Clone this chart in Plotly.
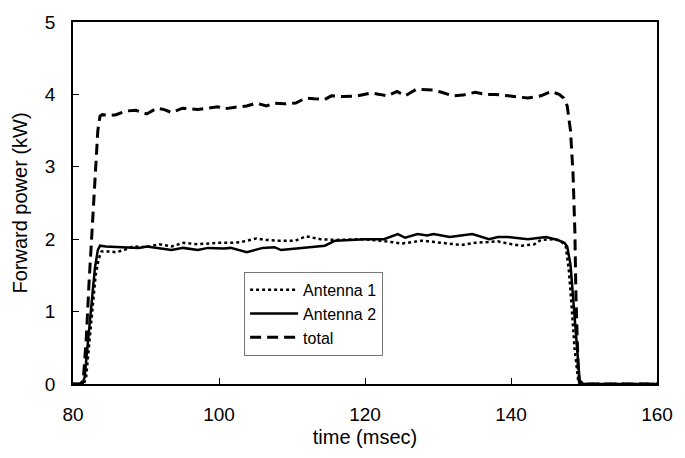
import plotly.graph_objects as go

total_t = [80.0, 81.0, 81.4, 81.8, 82.2, 82.6, 83.0, 83.4, 83.7, 84.0, 85.0, 85.9, 87.2, 88.6, 90.1, 91.5, 92.5, 93.5, 95.0, 97.1, 99.8, 100.7, 102.0, 103.8, 105.1, 106.5, 107.6, 109.0, 110.5, 111.9, 113.0, 114.5, 115.4, 117.0, 119.0, 120.8, 122.0, 123.0, 124.4, 125.5, 127.0, 129.3, 130.5, 132.0, 133.4, 135.1, 136.5, 137.8, 139.6, 141.0, 142.3, 144.1, 145.5, 146.6, 147.2, 147.7, 148.15, 148.5, 148.75, 148.9, 149.05, 149.2, 149.4, 150.0, 160.0]
total_v = [0, 0, 0.05, 0.6, 1.4, 2.15, 2.9, 3.5, 3.7, 3.72, 3.71, 3.72, 3.77, 3.78, 3.73, 3.81, 3.79, 3.75, 3.81, 3.79, 3.83, 3.80, 3.82, 3.84, 3.88, 3.84, 3.88, 3.87, 3.88, 3.95, 3.94, 3.93, 3.98, 3.97, 3.98, 4.02, 4.0, 3.98, 4.04, 3.98, 4.07, 4.06, 4.03, 3.98, 3.99, 4.03, 4.0, 4.0, 3.98, 3.96, 3.95, 3.98, 4.04, 4.0, 3.95, 3.84, 3.5, 2.9, 2.1, 1.2, 0.7, 0.2, 0, 0, 0]

ant2_t = [80.0, 81.3, 81.6, 82.0, 82.5, 83.0, 83.4, 83.7, 84.5, 86.0, 87.2, 89.0, 90.1, 91.5, 93.5, 95.1, 97.1, 98.5, 100.7, 101.6, 103.8, 106.0, 107.6, 108.5, 110.5, 113.2, 114.5, 115.9, 118.0, 120.0, 122.6, 124.5, 125.5, 127.2, 128.5, 129.4, 131.6, 134.7, 137.0, 138.2, 139.6, 142.3, 144.8, 146.4, 147.3, 147.7, 148.15, 148.5, 148.95, 149.4, 149.9, 160.0]
ant2_v = [0, 0, 0.1, 0.5, 1.1, 1.6, 1.85, 1.91, 1.90, 1.89, 1.89, 1.88, 1.90, 1.88, 1.85, 1.88, 1.85, 1.88, 1.87, 1.88, 1.82, 1.88, 1.89, 1.85, 1.87, 1.90, 1.91, 1.98, 1.99, 2.0, 2.0, 2.07, 2.02, 2.07, 2.05, 2.07, 2.03, 2.07, 2.0, 2.03, 2.03, 2.0, 2.03, 1.99, 1.95, 1.9, 1.65, 1.19, 0.51, 0.05, 0, 0]

ant1_t = [80.0, 81.5, 81.8, 82.2, 82.7, 83.1, 83.5, 83.9, 85.0, 85.9, 87.0, 88.2, 90.0, 91.8, 93.5, 95.1, 97.1, 99.8, 101.6, 103.0, 105.1, 106.5, 108.0, 110.5, 111.9, 113.9, 115.9, 119.8, 122.9, 125.1, 127.8, 130.5, 133.2, 135.1, 138.2, 139.6, 141.4, 143.2, 144.1, 145.9, 146.8, 147.5, 147.9, 148.25, 148.7, 149.2, 149.6, 160.0]
ant1_v = [0, 0, 0.1, 0.5, 1.1, 1.5, 1.72, 1.83, 1.83, 1.82, 1.85, 1.9, 1.89, 1.93, 1.9, 1.95, 1.93, 1.95, 1.95, 1.96, 2.01, 1.99, 1.98, 1.98, 2.04, 2.0, 1.99, 2.0, 1.97, 1.94, 1.98, 1.95, 1.92, 1.95, 1.97, 1.94, 1.91, 1.93, 1.99, 2.0, 1.98, 1.9, 1.6, 1.15, 0.5, 0.05, 0, 0]

x_ticks = [80, 100, 120, 140, 160]
y_ticks = [0, 1, 2, 3, 4, 5]

FONT = "Liberation Sans, Arial, sans-serif"

fig = go.Figure()
fig.add_trace(go.Scatter(x=ant1_t, y=ant1_v, mode="lines", name="Antenna 1",
                         line=dict(color="black", width=2.5, dash="dot")))
fig.add_trace(go.Scatter(x=ant2_t, y=ant2_v, mode="lines", name="Antenna 2",
                         line=dict(color="black", width=2.5, dash="solid")))
fig.add_trace(go.Scatter(x=total_t, y=total_v, mode="lines", name="total",
                         line=dict(color="black", width=3, dash="11px,6px")))

axis_common = dict(showgrid=False, zeroline=False, showline=True, linecolor="black",
                   linewidth=1.5, mirror=True, ticks="inside", ticklen=6,
                   tickcolor="black", tickwidth=1.2, ticklabelstandoff=12,
                   tickfont=dict(family=FONT, size=19, color="black"))

fig.update_xaxes(range=[80, 160], tickvals=x_ticks,
                 title=dict(text="time (msec)", font=dict(family=FONT, size=20, color="black"), standoff=6),
                 **axis_common)
fig.update_yaxes(range=[0, 5], tickvals=y_ticks,
                 title=dict(text="Forward power (kW)", font=dict(family=FONT, size=20, color="black"), standoff=12),
                 **axis_common)

fig.update_layout(
    width=685, height=458,
    margin=dict(l=73, r=17, t=18, b=74),
    paper_bgcolor="white", plot_bgcolor="white",
    font=dict(family=FONT, color="black"),
    legend=dict(x=0.293, y=0.31, xanchor="left", yanchor="top",
                bgcolor="white", bordercolor="#777", borderwidth=1,
                font=dict(family=FONT, size=16, color="black"),
                itemwidth=48, tracegroupgap=0),
)

fig.write_html("out.html")
